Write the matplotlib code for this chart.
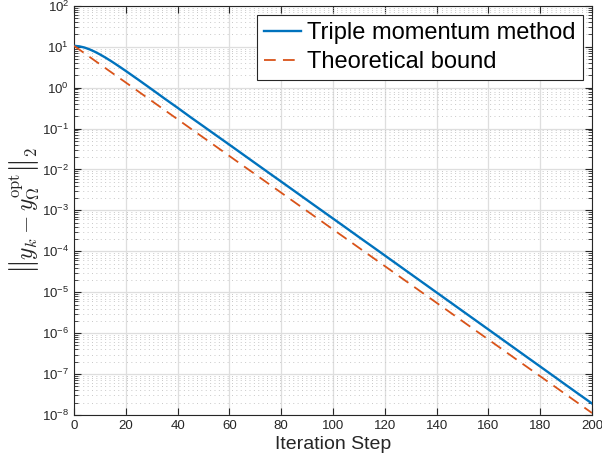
import matplotlib
matplotlib.use('Agg')
import matplotlib.pyplot as plt
from matplotlib.ticker import LogLocator, MultipleLocator, NullFormatter

plt.rcParams['font.family'] = ['Liberation Sans', 'DejaVu Sans']
plt.rcParams['mathtext.fontset'] = 'cm'

steps = [0, 2, 4, 6, 8, 10, 12, 14, 16, 18, 20] + list(range(25, 201, 5))

# ||y_k - y_opt||_2 for the triple momentum method
triple_momentum = [10.5, 10.2, 9.53, 8.59, 7.53, 6.47, 5.47, 4.57, 3.78, 3.11,
                   2.55, 1.53, 0.910, 0.537, 0.321,
                   0.189, 0.113, 0.0673, 0.0402, 0.0239, 0.0142, 8.45e-3,
                   5.04e-3, 3.00e-3, 1.78e-3, 1.06e-3, 6.32e-4, 3.76e-4,
                   2.23e-4, 1.33e-4, 7.91e-5, 4.70e-5, 2.79e-5, 1.66e-5,
                   9.86e-6, 5.86e-6, 3.48e-6, 2.07e-6, 1.23e-6, 7.30e-7,
                   4.33e-7, 2.57e-7, 1.53e-7, 9.08e-8, 5.38e-8, 3.20e-8,
                   1.91e-8]

# theoretical bound
bound_steps = list(range(0, 201, 5))
bound = [10.5, 6.25, 3.72, 2.22, 1.33, 0.792, 0.472, 0.282, 0.168, 0.100,
         0.0598, 0.0357, 0.0213, 0.0127, 7.59e-3, 4.53e-3, 2.70e-3, 1.61e-3,
         9.62e-4, 5.74e-4, 3.43e-4, 2.05e-4, 1.22e-4, 7.28e-5, 4.35e-5,
         2.59e-5, 1.55e-5, 9.23e-6, 5.51e-6, 3.29e-6, 1.96e-6, 1.17e-6,
         6.98e-7, 4.17e-7, 2.48e-7, 1.48e-7, 8.85e-8, 5.28e-8, 3.15e-8,
         1.88e-8, 1.12e-8]

fig = plt.figure(figsize=(6.02, 4.65), dpi=100)
ax = fig.add_axes([0.1229, 0.1075, 0.8605, 0.8802])

ax.semilogy(steps, triple_momentum, color='#0072BD', lw=1.7,
            label='Triple momentum method', zorder=3)
ax.semilogy(bound_steps, bound, color='#D95319', lw=1.3, dashes=(6.5, 4),
            label='Theoretical bound', zorder=3)

ax.set_xlim(0, 200)
ax.set_ylim(1e-8, 1e2)
ax.xaxis.set_major_locator(MultipleLocator(20))
ax.yaxis.set_major_locator(LogLocator(base=10, numticks=20))
ax.yaxis.set_minor_locator(LogLocator(base=10, subs=range(2, 10), numticks=20))
ax.yaxis.set_minor_formatter(NullFormatter())

# MATLAB-like grid
ax.grid(True, which='major', color='#dedede', lw=0.9, ls='-')
ax.grid(True, which='minor', axis='y', color='#c8c8c8', lw=0.7, ls=(0, (1, 3.5)))
ax.set_axisbelow(True)

ax.tick_params(which='both', direction='in', top=True, right=True,
               colors='#262626', labelsize=9.5)
ax.tick_params(which='major', length=5, width=0.8)
ax.tick_params(which='minor', length=3, width=0.6)
for s in ax.spines.values():
    s.set_color('#262626')
    s.set_linewidth(0.8)

ax.set_xlabel('Iteration Step', fontsize=14, color='#262626', labelpad=3)
ax.set_ylabel(r'$\left\|y_k - y_{\Omega}^{\mathrm{opt}}\right\|_2$',
              fontsize=17, color='#262626', labelpad=0)

leg = ax.legend(loc='upper right', fontsize=17, frameon=True, fancybox=False,
                framealpha=1, edgecolor='#262626', handlelength=1.55,
                borderaxespad=0.4, borderpad=0.3, labelspacing=0.28,
                handletextpad=0.25)
leg.get_frame().set_linewidth(0.8)

fig.savefig('out.png', dpi=100)
